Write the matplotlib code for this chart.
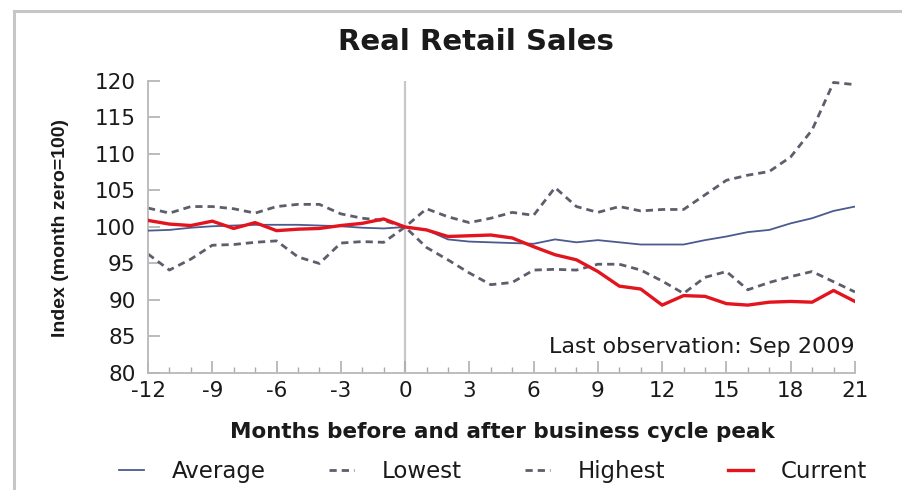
import matplotlib
matplotlib.use("Agg")
import matplotlib.pyplot as plt
from matplotlib.lines import Line2D

plt.rcParams['axes.unicode_minus'] = False

# Months relative to the business cycle peak
months = list(range(-12, 22))

average = [99.5, 99.6, 99.9, 100.1, 100.2, 100.3, 100.3, 100.3, 100.2, 100.1, 99.9, 99.8,
           100.0,
           99.6, 98.3, 98.0, 97.9, 97.8, 97.7, 98.3, 97.9, 98.2, 97.9, 97.6, 97.6, 97.6,
           98.2, 98.7, 99.3, 99.6, 100.5, 101.2, 102.2, 102.8]

lowest = [96.3, 94.1, 95.6, 97.5, 97.6, 97.9, 98.1, 95.9, 95.0, 97.8, 98.0, 97.9,
          100.0,
          97.2, 95.5, 93.7, 92.1, 92.4, 94.1, 94.2, 94.1, 94.9, 94.9, 94.1, 92.6, 90.9,
          93.1, 93.9, 91.4, 92.4, 93.2, 93.9, 92.5, 91.1]

highest = [102.6, 101.9, 102.8, 102.8, 102.5, 101.9, 102.8, 103.1, 103.1, 101.8, 101.2, 100.9,
           100.0,
           102.5, 101.4, 100.6, 101.2, 102.0, 101.6, 105.4, 102.8, 102.0, 102.8, 102.2, 102.4,
           102.4, 104.4, 106.4, 107.1, 107.6, 109.6, 113.3, 119.8, 119.5]

current = [100.9, 100.4, 100.2, 100.8, 99.8, 100.6, 99.5, 99.7, 99.8, 100.2, 100.5, 101.1,
           100.0,
           99.6, 98.7, 98.8, 98.9, 98.5, 97.3, 96.2, 95.5, 93.9, 91.9, 91.5, 89.3, 90.6,
           90.5, 89.5, 89.3, 89.7, 89.8, 89.7, 91.3, 89.8]

x_ticks = list(range(-12, 22, 3))
y_ticks = list(range(80, 121, 5))

text_color = '#1a1a1a'
axis_color = '#b8b8b8'
dash = (0, (2.6, 1.8))

fig = plt.figure(figsize=(9.03, 4.9), dpi=100)
ax = fig.add_axes([0.1639, 0.2388, 0.7829, 0.5959])

# peak marker
ax.axvline(0, color='#c8c8c8', lw=1.6, zorder=1)

ax.plot(months, average, color='#4b5a8f', lw=1.3, label='Average', zorder=3)
ax.plot(months, lowest, color='#5c5f6b', lw=2.0, linestyle=dash, label='Lowest', zorder=2)
ax.plot(months, highest, color='#5c5f6b', lw=2.0, linestyle=dash, label='Highest', zorder=2)
ax.plot(months, current, color='#e3141d', lw=2.4, label='Current', zorder=4)

ax.set_xlim(-12, 21)
ax.set_ylim(80, 120)
ax.set_xticks(x_ticks)
ax.set_xticks(months, minor=True)
ax.set_yticks(y_ticks)

for side in ('top', 'right'):
    ax.spines[side].set_visible(False)
for side in ('left', 'bottom'):
    ax.spines[side].set_color(axis_color)
    ax.spines[side].set_linewidth(1.3)

ax.tick_params(axis='x', which='major', direction='in', length=8.5, width=1.1,
               color='#aaaaaa', pad=6, labelsize=15.5, labelcolor=text_color)
ax.tick_params(axis='x', which='minor', direction='in', length=4.5, width=1.0,
               color='#aaaaaa')
ax.tick_params(axis='y', direction='in', length=8.5, width=1.1,
               color='#aaaaaa', pad=9, labelsize=15.5, labelcolor=text_color)

ax.text(21, 83.6, 'Last observation: Sep 2009', ha='right', va='center',
        fontsize=16, color=text_color)

# titles and axis labels placed on the figure
fig.text(0.527, 0.914, 'Real Retail Sales', ha='center', va='center',
         fontsize=21, fontweight='bold', color=text_color)
fig.text(0.0665, 0.535, 'Index (month zero=100)', ha='center', va='center',
         rotation=90, fontsize=14, fontweight='bold', family='Liberation Sans',
         color=text_color)
fig.text(0.556, 0.118, 'Months before and after business cycle peak',
         ha='center', va='center', fontsize=15.5, fontweight='bold', color=text_color)

handles, labels = ax.get_legend_handles_labels()
fig.legend(handles, labels, loc='center', bbox_to_anchor=(0.546, 0.037), ncol=4,
           frameon=False, handlelength=1.1, handletextpad=1.2, columnspacing=2.75,
           fontsize=16.5, labelcolor=text_color)

# thin frame round the panel
fx = 14.5 / 903
fy = 1 - 11.5 / 490
fig.add_artist(Line2D([fx, fx], [0, fy], transform=fig.transFigure, color='#c6c6c6', lw=2.2))
fig.add_artist(Line2D([fx, 1], [fy, fy], transform=fig.transFigure, color='#c6c6c6', lw=2.2))

fig.savefig('out.png', dpi=100, facecolor='white')
